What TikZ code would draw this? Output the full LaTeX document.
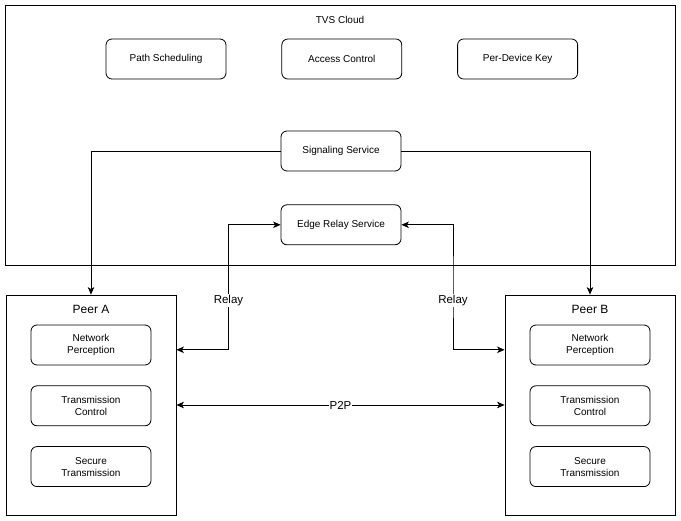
\documentclass[tikz,border=0pt]{standalone}
\usepackage{fontspec}
\setmainfont{Liberation Sans}
\usetikzlibrary{positioning,calc,arrows.meta}
\tikzstyle{service}=[draw, rounded corners=6pt, minimum width=120pt, minimum height=40pt, align=center]
\tikzstyle{peer}=[draw, minimum width=170pt, minimum height=220pt]
\tikzstyle{arrow}=[->]
\tikzstyle{dblarrow}=[<->]
\tikzstyle{lbl}=[fill=white, inner sep=1pt, font=\fontsize{11.5}{13}\selectfont]

\begin{document}
\begin{tikzpicture}[x=1pt,y=-1pt,line width=0.8pt,font=\fontsize{10}{12}\selectfont,
  >={Stealth[length=7.5pt,width=6.5pt,inset=2pt]}]
\useasboundingbox (0,0) rectangle (681,521);
% cloud side
\node (cloud) [draw, minimum width=670pt, minimum height=260pt] at (340,135) {};
\node (cloudlbl) at ([yshift=-15pt]cloud.north) {TVS Cloud};
\node (path) [service] at (166,59) {Path Scheduling};
\node (access) [service, right=55pt of path] {Access Control};
\node (key) [service, right=55pt of access] {Per-Device Key};
\node (signal) [service] at (341,151) {Signaling Service};
\node (edge) [service, below=33pt of signal] {Edge Relay Service};
% peers
\node (peerA) [peer] at (91,405) {};
\node (peerAlbl) [font=\fontsize{12}{14}\selectfont] at ([yshift=-15pt]peerA.north) {Peer A};
\node (netA) [service, below=30pt of peerA.north] {Network\\Perception};
\node (ctrlA) [service, below=20pt of netA] {Transmission\\Control};
\node (secA) [service, below=20pt of ctrlA] {Secure\\Transmission};
\node (peerB) [peer] at (590,405) {};
\node (peerBlbl) [font=\fontsize{12}{14}\selectfont] at ([yshift=-15pt]peerB.north) {Peer B};
\node (netB) [service, below=30pt of peerB.north] {Network\\Perception};
\node (ctrlB) [service, below=20pt of netB] {Transmission\\Control};
\node (secB) [service, below=20pt of ctrlB] {Secure\\Transmission};
% connections
\draw[arrow] (signal) -| (peerA);
\draw[arrow] (signal) -| (peerB);
\coordinate (relA) at ($(peerA.north east)!.25!(peerA.south east)$);
\coordinate (relB) at ($(peerB.north west)!.25!(peerB.south west)$);
\coordinate (midA) at ($(relA)!.5!(edge.west)$);
\coordinate (midB) at ($(relB)!.5!(edge.east)$);
\draw[dblarrow] (relA) -| (midA) |- (edge);
\draw[dblarrow] (relB) -| (midB) |- (edge);
\node (relayA) [lbl] at ([yshift=-13pt]midA) {Relay};
\node (relayB) [lbl] at ([yshift=-13pt]midB) {Relay};
\draw[dblarrow] (peerA) -- node[lbl] (p2p) {P2P} (peerB);
\end{tikzpicture}
\end{document}
